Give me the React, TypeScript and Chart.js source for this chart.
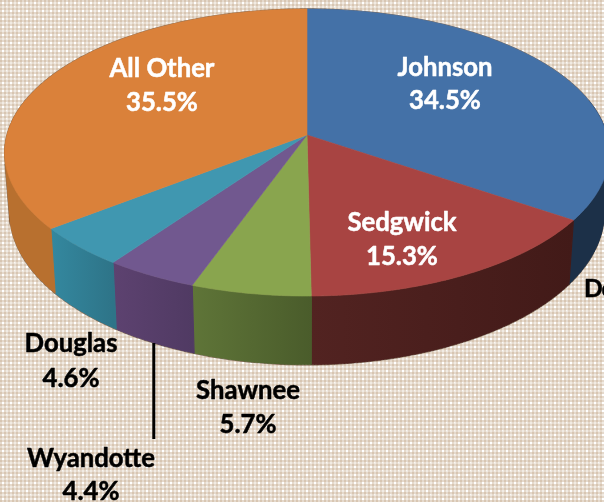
import React, { useEffect, useRef } from "react";
import { Chart, registerables } from "chart.js";

Chart.register(...registerables);

const categories = ["Johnson", "Sedgwick", "Shawnee", "Wyandotte", "Douglas", "All Other"];
const shares = [34.5, 15.3, 5.7, 4.4, 4.6, 35.5];

const topColors = ["#4471a7", "#a84442", "#89a54e", "#71588f", "#4097b0", "#da813a"];
const wallFrom = ["#1c3048", "#421a18", "#4a5c2b", "#503a63", "#2e7488", "#b8702f"];
const wallTo = ["#1c3048", "#522321", "#5f7538", "#5d4270", "#34889f", "#b8702f"];
const labelColors = ["#ffffff", "#ffffff", "#000000", "#000000", "#000000", "#ffffff"];
const labelCenters = [[445, 68], [402, 223], [248, 391], [91, 459], [71, 344], [162, 69]];
const lineGap = [33, 34, 34, 33, 35, 34];

const CUT_OFF_LABEL = "Do";

const K = 0.122;
const upper = { cx: 307, cy: 135, a: 300, b: 141.4 };
const lower = { cx: 307, cy: 194, a: 295, b: 150 };

function project(plane: typeof upper, angle: number) {
  const u = Math.cos(angle);
  const v = Math.sin(angle);
  const w = 1 - K * v;
  return [plane.cx + (plane.a * u) / w, plane.cy + (plane.b * v) / w];
}

function makeTexture() {
  const tile = document.createElement("canvas");
  tile.width = 8;
  tile.height = 8;
  const c = tile.getContext("2d")!;
  for (let y = 0; y < 8; y++) {
    for (let x = 0; x < 8; x++) {
      const dx = x % 4 < 2;
      const dy = y % 4 < 2;
      c.fillStyle = dx && dy ? "#d8c6b2" : dx || dy ? "#e5d9cc" : "#f1ebe3";
      c.fillRect(x, y, 1, 1);
    }
  }
  c.fillStyle = "#ffffff";
  c.fillRect(2, 2, 2, 2);
  c.fillStyle = "#fbf9f6";
  c.fillRect(6, 6, 1, 1);
  return tile;
}

const pie3d = {
  id: "pie3d",
  beforeDraw(chart: Chart) {
    const ctx = chart.ctx;
    const pattern = ctx.createPattern(makeTexture(), "repeat")!;
    ctx.save();
    ctx.fillStyle = pattern;
    ctx.fillRect(0, 0, chart.width, chart.height);
    ctx.restore();
  },
  beforeDatasetsDraw(chart: Chart) {
    const ctx = chart.ctx;
    const arcs = chart.getDatasetMeta(0).data as any[];

    ctx.save();
    // thin dark rim around the solid
    ctx.strokeStyle = "rgba(70,45,25,0.62)";
    ctx.lineWidth = 1.3;
    for (const plane of [upper, lower]) {
      ctx.beginPath();
      for (let a = 0; a <= Math.PI * 2 + 0.01; a += 0.01) {
        const [x, y] = project(plane, a);
        if (a === 0) ctx.moveTo(x, y);
        else ctx.lineTo(x, y);
      }
      ctx.closePath();
      ctx.stroke();
    }
    // silhouette edge joining the upper and lower rims on the left
    const edgeAngle = Math.PI - 0.2;
    const edgeTop = project(upper, edgeAngle);
    const edgeBottom = project(lower, edgeAngle);
    ctx.beginPath();
    ctx.moveTo(edgeTop[0] - 0.6, edgeTop[1]);
    ctx.lineTo(edgeBottom[0] - 0.6, edgeBottom[1]);
    ctx.stroke();

    // side walls: one polygon per slice, only its part facing the viewer
    arcs.forEach((arc, i) => {
      const { startAngle, endAngle } = arc;
      const n = Math.max(4, Math.ceil((endAngle - startAngle) / 0.01));
      const angles: number[] = [];
      for (let k = 0; k <= n; k++) {
        const a = startAngle + ((endAngle - startAngle) * k) / n;
        if (Math.sin(a) > -0.25) angles.push(a);
      }
      if (angles.length < 2) return;
      const first = project(upper, angles[0]);
      const last = project(upper, angles[angles.length - 1]);
      const gradient = ctx.createLinearGradient(first[0], 0, last[0], 0);
      gradient.addColorStop(0, wallFrom[i]);
      gradient.addColorStop(1, wallTo[i]);
      ctx.fillStyle = gradient;
      // the rulings fill out the silhouette beyond both rims
      ctx.strokeStyle = gradient;
      ctx.lineWidth = 1.2;
      ctx.beginPath();
      angles.forEach((a) => {
        const [x0, y0] = project(upper, a);
        const [x1, y1] = project(lower, a);
        ctx.moveTo(x0, y0);
        ctx.lineTo(x1, y1);
      });
      ctx.stroke();
      ctx.beginPath();
      angles.forEach((a, j) => {
        const [x, y] = project(upper, a);
        if (j) ctx.lineTo(x, y);
        else ctx.moveTo(x, y);
      });
      [...angles].reverse().forEach((a) => {
        const [x, y] = project(lower, a);
        ctx.lineTo(x, y);
      });
      ctx.closePath();
      ctx.fill();
    });

    arcs.forEach((arc, i) => {
      const { startAngle, endAngle } = arc;
      const n = Math.max(2, Math.ceil((endAngle - startAngle) / 0.008));
      ctx.fillStyle = topColors[i];
      ctx.strokeStyle = topColors[i];
      ctx.lineWidth = 0.6;
      ctx.beginPath();
      ctx.moveTo(upper.cx, upper.cy);
      for (let k = 0; k <= n; k++) {
        const [x, y] = project(upper, startAngle + ((endAngle - startAngle) * k) / n);
        ctx.lineTo(x, y);
      }
      ctx.closePath();
      ctx.fill();
      ctx.stroke();
    });
    ctx.restore();
    return false;
  },
  afterDraw(chart: Chart) {
    const ctx = chart.ctx;
    ctx.save();
    // leader line of the Wyandotte label
    ctx.strokeStyle = "#000000";
    ctx.lineWidth = 3;
    ctx.beginPath();
    ctx.moveTo(153.8, 343);
    ctx.lineTo(153.8, 439);
    ctx.stroke();

    ctx.font = "bold 25.7px Lato, Carlito, sans-serif";
    ctx.textAlign = "center";
    ctx.textBaseline = "middle";
    ctx.lineWidth = 0.5;
    ctx.lineJoin = "round";
    const put = (text: string, x: number, y: number, color: string) => {
      ctx.fillStyle = color;
      ctx.strokeStyle = color;
      ctx.fillText(text, x, y);
      ctx.strokeText(text, x, y);
    };
    categories.forEach((name, i) => {
      const [x, y] = labelCenters[i];
      put(name, x, y, labelColors[i]);
      put(`${shares[i].toFixed(1)}%`, x, y + lineGap[i], labelColors[i]);
    });
    ctx.textAlign = "left";
    ctx.font = "bold 24.5px Lato, Carlito, sans-serif";
    (ctx as any).letterSpacing = "-1px";
    put(CUT_OFF_LABEL, 584, 289, "#000000");
    ctx.restore();
  },
};

export default function App() {
  const ref = useRef<HTMLCanvasElement>(null);
  useEffect(() => {
    document.body.style.margin = "0";
    const chart = new Chart(ref.current!, {
      type: "pie",
      data: {
        labels: categories,
        datasets: [{ data: shares, backgroundColor: topColors, borderWidth: 0 }],
      },
      options: {
        responsive: false,
        animation: false,
        events: [],
        plugins: { legend: { display: false }, tooltip: { enabled: false } },
      },
      plugins: [pie3d],
    });
    return () => chart.destroy();
  }, []);
  return <canvas ref={ref} width={604} height={502} style={{ display: "block" }} />;
}
